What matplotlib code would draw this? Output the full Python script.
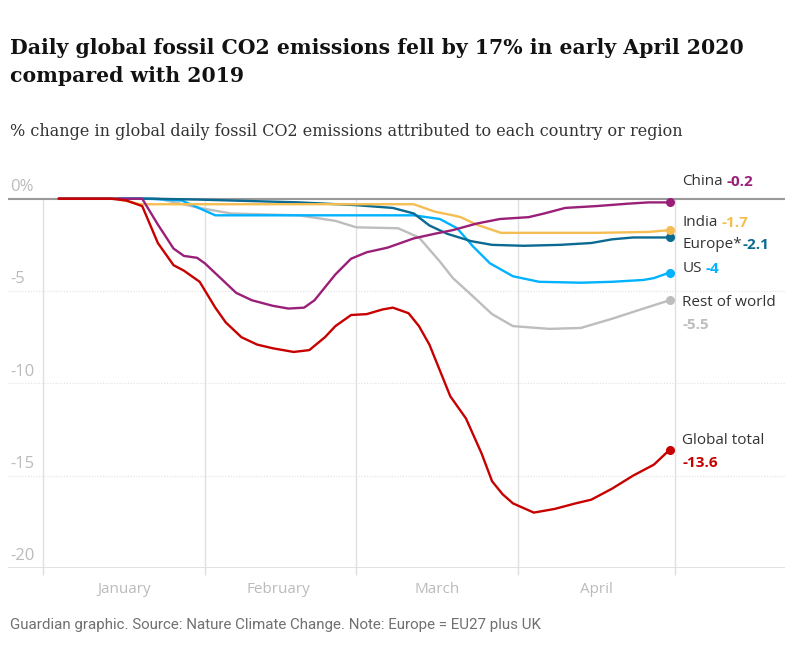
import matplotlib
matplotlib.use("Agg")
import matplotlib.pyplot as plt

# data: day of year 2020 (Jan 1 = 0) and % change in daily fossil CO2
global_days = [3, 13, 16, 19, 22, 25, 27, 30, 33, 35, 38, 41, 44, 48, 51, 54, 56, 59, 62, 65, 67, 70, 72, 74, 78, 81, 84, 86, 88, 90, 94, 98, 102, 105, 109, 113, 117, 120]
global_vals = [0, 0, -0.1, -0.4, -2.4, -3.6, -3.9, -4.5, -5.9, -6.7, -7.5, -7.9, -8.1, -8.3, -8.2, -7.5, -6.9, -6.3, -6.25, -6.0, -5.9, -6.2, -6.9, -7.9, -10.7, -11.9, -13.8, -15.3, -16.0, -16.5, -17.0, -16.8, -16.5, -16.3, -15.7, -15.0, -14.4, -13.6]

china_days = [3, 19, 22, 25, 27, 29.5, 31, 34, 37, 40, 44, 47, 50, 52, 54, 56, 59, 62, 66, 71, 75, 78.5, 83, 87.5, 93, 96, 100, 106, 112, 116, 120]
china_vals = [0, 0, -1.4, -2.7, -3.1, -3.2, -3.5, -4.3, -5.1, -5.5, -5.8, -5.95, -5.9, -5.5, -4.8, -4.1, -3.25, -2.9, -2.65, -2.15, -1.9, -1.7, -1.35, -1.1, -1.0, -0.8, -0.5, -0.4, -0.27, -0.2, -0.2]

india_days = [3, 14, 18.6, 71, 75, 78.5, 80, 83, 87.7, 106, 116, 120]
india_vals = [0, 0, -0.3, -0.3, -0.7, -0.9, -1.0, -1.4, -1.85, -1.85, -1.8, -1.7]

europe_days = [3, 21, 30, 49, 60, 67, 71, 74, 77.4, 82, 86, 92, 99, 105, 109, 113, 120]
europe_vals = [0, 0, -0.05, -0.2, -0.35, -0.5, -0.8, -1.45, -1.9, -2.3, -2.5, -2.55, -2.5, -2.4, -2.2, -2.1, -2.1]

us_days = [3, 20, 26.6, 33, 71, 76, 79.3, 82.4, 85.6, 90, 95, 103, 109, 115, 117, 120]
us_vals = [0, 0, -0.1, -0.9, -0.9, -1.1, -1.6, -2.6, -3.5, -4.2, -4.5, -4.55, -4.5, -4.4, -4.3, -4.0]

row_days = [3, 22, 30, 36, 49, 56, 60, 68, 72, 76, 78.5, 82, 86, 90, 97, 103, 109, 115, 120]
row_vals = [0, 0, -0.5, -0.8, -0.9, -1.2, -1.55, -1.6, -2.1, -3.4, -4.3, -5.2, -6.25, -6.9, -7.05, -7.0, -6.5, -5.95, -5.5]

names = ["Rest of world", "US", "Europe*", "India", "China", "Global total"]
label_values = ["-5.5", "-4", "-2.1", "-1.7", "-0.2", "-13.6"]
colors = ["#bdbdbd", "#00b2ff", "#0a6a91", "#f5be52", "#9a1f78", "#c70000"]

month_starts = [0, 31, 60, 91, 121]
month_mid = [15.5, 45, 75.5, 106]
month_labels = ["January", "February", "March", "April"]
y_ticks = [0, -5, -10, -15, -20]
y_labels = ["0%", "-5", "-10", "-15", "-20"]

series = [(row_days, row_vals), (us_days, us_vals), (europe_days, europe_vals),
          (india_days, india_vals), (china_days, china_vals), (global_days, global_vals)]
# label layout: y position (data units), value on a second line?, gap in points
label_y = [-5.6, -3.8, -2.5, -1.3, 0.92, -13.1]
label_two_lines = [True, False, False, False, False, True]
label_gap = [0, 3, 0.3, 3, 3, 0]

W, H = 800, 666
fig = plt.figure(figsize=(W / 100, H / 100), dpi=100)
ax = fig.add_axes([8 / W, 1 - 568 / H, 777 / W, 397 / H])
ax.set_xlim(-6.7, 142.1)
ax.set_ylim(-20, 1.5)
for s in ax.spines.values():
    s.set_visible(False)
ax.set_yticks([])

# grid
for yt in y_ticks[1:-1]:
    ax.axhline(yt, color="#e2e2e2", lw=0.8, ls=(0, (1, 1.5)), zorder=0)
ax.axhline(-20, color="#dcdcdc", lw=1.2, zorder=0)
ax.vlines(month_starts, -20.4, 0, color="#e0e0e0", lw=1, zorder=0, clip_on=False)
ax.axhline(0, color="#999999", lw=1.5, zorder=1)

for yt, lab in zip(y_ticks, y_labels):
    ax.text(0.003, yt + 0.2, lab, transform=ax.get_yaxis_transform(), ha="left", va="bottom",
            fontsize=12, color="#bbbbbb", family="Open Sans")

ax.set_xticks(month_mid)
ax.set_xticklabels(month_labels, fontsize=11, color="#bbbbbb", family="Open Sans")
ax.tick_params(axis="x", length=0, pad=10)

for (d, v), c, nm, ly, val, two, gap in zip(series, colors, names, label_y, label_values,
                                            label_two_lines, label_gap):
    ax.plot(d, v, color=c, lw=1.7, solid_capstyle="round", solid_joinstyle="round", zorder=3)
    ax.plot(d[-1], v[-1], "o", color=c, ms=5.5, zorder=4)
    t = ax.text(122.4, ly, nm, fontsize=11, color="#333333", family="Open Sans",
                va="center", ha="left")
    if two:
        ax.annotate(val, xy=(0, 0), xycoords=t, xytext=(0, -6), textcoords="offset points",
                    ha="left", va="top", fontsize=11, color=c, fontweight="bold", family="Open Sans")
    else:
        ax.annotate(val, xy=(1, 0), xycoords=t, xytext=(gap, 0), textcoords="offset points",
                    ha="left", va="bottom", fontsize=11, color=c, fontweight="bold", family="Open Sans")

fig.text(10 / W, 1 - 38 / H, "Daily global fossil CO2 emissions fell by 17% in early April 2020\ncompared with 2019",
         ha="left", va="top", fontsize=14.7, fontweight="bold", family="DejaVu Serif", color="#121212",
         linespacing=1.5)
fig.text(10 / W, 1 - 131 / H, "% change in global daily fossil CO2 emissions attributed to each country or region",
         ha="left", va="center", fontsize=11.5, family="DejaVu Serif", color="#333333")
fig.text(10 / W, 1 - 625 / H, "Guardian graphic. Source: Nature Climate Change. Note: Europe = EU27 plus UK",
         ha="left", va="center", fontsize=10.9, family="Roboto", color="#707070")

fig.savefig("out.png", dpi=100, facecolor="white")
